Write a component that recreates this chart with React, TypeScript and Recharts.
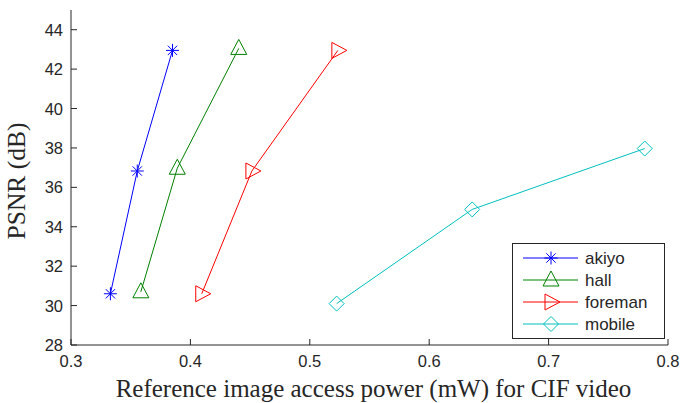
import React from 'react';
import { ScatterChart, Scatter, XAxis, YAxis, Legend, Label } from 'recharts';

const xTicks = [0.3, 0.4, 0.5, 0.6, 0.7, 0.8];
const yTicks = [28, 30, 32, 34, 36, 38, 40, 42, 44];

const akiyoX = [0.333, 0.3555, 0.385];
const akiyoY = [30.6, 36.83, 42.95];
const hallX = [0.3585, 0.389, 0.4405];
const hallY = [30.7, 36.97, 43.05];
const foremanX = [0.4095, 0.4515, 0.5235];
const foremanY = [30.6, 36.83, 42.95];
const mobileX = [0.5225, 0.636, 0.7805];
const mobileY = [30.1, 34.88, 37.97];

const seriesNames = ['akiyo', 'hall', 'foreman', 'mobile'];
const seriesColors = ['#0000ff', '#008000', '#ff0000', '#00bfbf'];
const seriesMarkers = ['star', 'triUp', 'triRight', 'diamond'];

const zip = (xs: number[], ys: number[]) => xs.map((x, i) => ({ x, y: ys[i] }));
const seriesData = [zip(akiyoX, akiyoY), zip(hallX, hallY), zip(foremanX, foremanY), zip(mobileX, mobileY)];

const AX = '#262626';
const SANS = 'Liberation Sans, Arial, sans-serif';
const SERIF = 'Liberation Serif, Times New Roman, serif';

function Marker({ kind, cx, cy, color }: { kind: string; cx: number; cy: number; color: string }) {
  const p = { fill: 'none', stroke: color, strokeWidth: 1 };
  if (kind === 'star') {
    const r = 6.5;
    const d = r * 0.72;
    return (
      <g {...p}>
        <line x1={cx - r} y1={cy} x2={cx + r} y2={cy} />
        <line x1={cx} y1={cy - r} x2={cx} y2={cy + r} />
        <line x1={cx - d} y1={cy - d} x2={cx + d} y2={cy + d} />
        <line x1={cx - d} y1={cy + d} x2={cx + d} y2={cy - d} />
      </g>
    );
  }
  if (kind === 'triUp') {
    const w = 8, h = 15;
    return <polygon {...p} points={`${cx},${cy - h * 0.6} ${cx - w},${cy + h * 0.4} ${cx + w},${cy + h * 0.4}`} />;
  }
  if (kind === 'triRight') {
    const w = 8, h = 15;
    return <polygon {...p} points={`${cx + h * 0.6},${cy} ${cx - h * 0.4},${cy - w} ${cx - h * 0.4},${cy + w}`} />;
  }
  const r = 7.5;
  return <polygon {...p} points={`${cx},${cy - r} ${cx + r},${cy} ${cx},${cy + r} ${cx - r},${cy}`} />;
}

const BottomTick = (props: any) => {
  const { x, y, payload } = props;
  return (
    <g>
      <line x1={x} x2={x} y1={y} y2={y - 6} stroke={AX} />
      <text x={x} y={y + 22} textAnchor="middle" fontSize={16.5} fontFamily={SANS} fill={AX}>
        {Number(payload.value).toFixed(1)}
      </text>
    </g>
  );
};
const LeftTick = (props: any) => {
  const { x, y, payload } = props;
  return (
    <g>
      <line x1={x} x2={x + 6} y1={y} y2={y} stroke={AX} />
      <text x={x - 8} y={y + 6} textAnchor="end" fontSize={16.5} fontFamily={SANS} fill={AX}>
        {payload.value}
      </text>
    </g>
  );
};
const TopTick = (props: any) => {
  const { x, y } = props;
  return <line x1={x} x2={x} y1={y} y2={y + 6} stroke={AX} />;
};
const RightTick = (props: any) => {
  const { x, y } = props;
  return <line x1={x} x2={x - 6} y1={y} y2={y} stroke={AX} />;
};

const LegendBox = () => (
  <svg width={153} height={96} style={{ display: 'block' }}>
    <rect x={0.5} y={0.5} width={152} height={95} fill="#fff" stroke={AX} />
    {seriesNames.map((n, i) => {
      const cy = 15 + i * 22;
      return (
        <g key={n}>
          <line x1={11} x2={66} y1={cy} y2={cy} stroke={seriesColors[i]} />
          <Marker kind={seriesMarkers[i]} cx={39} cy={cy} color={seriesColors[i]} />
          <text x={73} y={cy + 6} fontSize={17} fontFamily={SANS} fill={AX}>{n}</text>
        </g>
      );
    })}
  </svg>
);

export default function App() {
  return (
    <div style={{ position: 'absolute', left: 0, top: 0, background: '#fff' }}>
      <ScatterChart width={681} height={403} margin={{ top: 10, right: 13, bottom: 0, left: 0 }}>
        <XAxis
          dataKey="x"
          type="number"
          domain={[0.3, 0.8]}
          ticks={xTicks}
          height={58}
          stroke={AX}
          tickSize={0}
          tickMargin={0}
          tick={<BottomTick />}
          allowDataOverflow
        >
          <Label
            content={(p: any) => {
              const vb = p.viewBox;
              return (
                <text
                  x={vb.x + vb.width / 2 + 4}
                  y={vb.y + 52}
                  textAnchor="middle"
                  fontSize={25}
                  fontFamily={SERIF}
                  fill={AX}
                >
                  Reference image access power (mW) for CIF video
                </text>
              );
            }}
          />
        </XAxis>
        <XAxis
          xAxisId="top"
          orientation="top"
          type="number"
          domain={[0.3, 0.8]}
          ticks={xTicks}
          height={0}
          stroke={AX}
          tickSize={0}
          tickMargin={0}
          tick={<TopTick />}
          allowDataOverflow
        />
        <YAxis
          dataKey="y"
          type="number"
          domain={[28, 45]}
          ticks={yTicks}
          width={71}
          stroke={AX}
          tickSize={0}
          tickMargin={0}
          tick={<LeftTick />}
          allowDataOverflow
        >
          <Label
            content={(p: any) => {
              const vb = p.viewBox;
              const cx = 25;
              const cy = vb.y + vb.height / 2 + 3.5;
              return (
                <text
                  x={cx}
                  y={cy}
                  transform={`rotate(-90 ${cx} ${cy})`}
                  textAnchor="middle"
                  fontSize={25.5}
                  fontFamily={SERIF}
                  fill={AX}
                >
                  PSNR (dB)
                </text>
              );
            }}
          />
        </YAxis>
        <YAxis
          yAxisId="right"
          orientation="right"
          type="number"
          domain={[28, 45]}
          ticks={yTicks}
          width={0}
          stroke={AX}
          tickSize={0}
          tickMargin={0}
          tick={<RightTick />}
          allowDataOverflow
        />
        {seriesData.map((d, i) => (
          <Scatter
            key={seriesNames[i]}
            name={seriesNames[i]}
            data={d}
            line={{ stroke: seriesColors[i], strokeWidth: 1 }}
            lineType="joint"
            isAnimationActive={false}
            shape={(p: any) => <Marker kind={seriesMarkers[i]} cx={p.cx} cy={p.cy} color={seriesColors[i]} />}
          />
        ))}
        <Legend
          layout="horizontal"
          verticalAlign="middle"
          align="center"
          wrapperStyle={{ left: 512, top: 243, width: 153, height: 96 }}
          content={() => <LegendBox />}
        />
      </ScatterChart>
    </div>
  );
}
